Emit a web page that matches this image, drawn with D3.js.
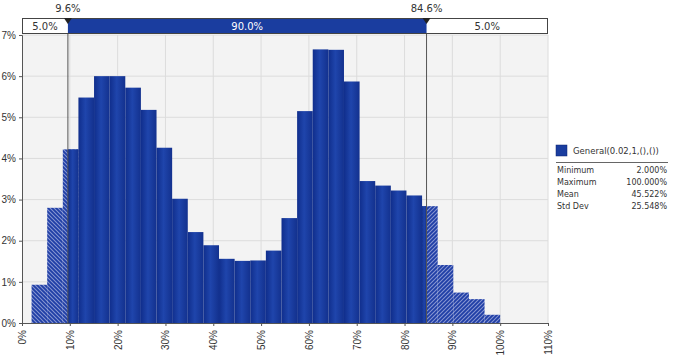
<!DOCTYPE html>
<html>
<head>
<meta charset="utf-8">
<script src="https://cdn.jsdelivr.net/npm/d3@7"></script>
<style>
  body { margin: 0; background: #fff; }
  svg { display: block; font-family: "DejaVu Sans", sans-serif; }
</style>
</head>
<body>
<svg width="674" height="355"></svg>
<script>
// histogram of General(0.02,1,(),()) - 30 bins between min and max
const probs = [0.93, 2.80, 4.22, 5.48, 6.00, 6.00, 5.72, 5.18, 4.26, 3.02,
  2.21, 1.89, 1.56, 1.51, 1.52, 1.76, 2.55, 5.15, 6.65, 6.64,
  5.87, 3.45, 3.34, 3.22, 3.10, 2.84, 1.41, 0.74, 0.58, 0.20];
const binMin = 2;
const binMax = 100;
const cutLow = 9.6;
const cutHigh = 84.6;
const bandLabels = ["5.0%", "90.0%", "5.0%"];
const xTicks = [0, 10, 20, 30, 40, 50, 60, 70, 80, 90, 100, 110];
const yTicks = [0, 1, 2, 3, 4, 5, 6, 7];
const legendTitle = "General(0.02,1,(),())";
const statNames = ["Minimum", "Maximum", "Mean", "Std Dev"];
const statValues = ["2.000%", "100.000%", "45.522%", "25.548%"];

const svg = d3.select("svg");

const x = d3.scaleLinear().domain([0, 110]).range([22, 548]);
const y = d3.scaleLinear().domain([0, 7]).range([323, 35]);

const binW = (binMax - binMin) / probs.length;
const bins = probs.map((p, i) => ({ lo: binMin + i * binW, hi: binMin + (i + 1) * binW, p }));

// gradient + hatch patterns
const defs = svg.append("defs");
const grad = defs.append("linearGradient").attr("id", "barGrad")
  .attr("x1", 0).attr("x2", 1).attr("y1", 0).attr("y2", 0);
grad.append("stop").attr("offset", "0%").attr("stop-color", "#102e8c");
grad.append("stop").attr("offset", "45%").attr("stop-color", "#1f45ac");
grad.append("stop").attr("offset", "100%").attr("stop-color", "#13318e");

const mkHatch = (id, d) => {
  const p = defs.append("pattern").attr("id", id)
    .attr("patternUnits", "userSpaceOnUse").attr("width", 4).attr("height", 4);
  p.append("rect").attr("width", 4).attr("height", 4).attr("fill", "#8796d2");
  p.append("path").attr("d", d).attr("stroke", "#1f3ea6").attr("stroke-width", 1.8);
};
mkHatch("hatchL", "M-1,-1 L5,5 M-1,3 L1,5 M3,-1 L5,1");
mkHatch("hatchR", "M-1,5 L5,-1 M-1,1 L1,-1 M3,5 L5,3");

// plot background + grid
svg.append("rect")
  .attr("x", x(0)).attr("y", y(7))
  .attr("width", x(110) - x(0)).attr("height", y(0) - y(7))
  .attr("fill", "#f3f3f3");

svg.append("g").selectAll("line").data(xTicks.slice(1)).join("line")
  .attr("x1", d => x(d)).attr("x2", d => x(d))
  .attr("y1", y(7)).attr("y2", y(0))
  .attr("stroke", "#dcdcdc");
svg.append("g").selectAll("line").data(yTicks.slice(1)).join("line")
  .attr("x1", x(0)).attr("x2", x(110))
  .attr("y1", d => y(d)).attr("y2", d => y(d))
  .attr("stroke", "#dcdcdc");

// bars: hatched full bar, solid over the central 90%
const bars = svg.append("g");
bars.selectAll("rect.h").data(bins.filter(b => b.lo < cutLow || b.hi > cutHigh)).join("rect")
  .attr("class", "h")
  .attr("x", d => x(d.lo)).attr("width", d => x(d.hi) - x(d.lo))
  .attr("y", d => y(d.p)).attr("height", d => y(0) - y(d.p))
  .attr("fill", d => d.lo < cutLow ? "url(#hatchL)" : "url(#hatchR)");

bars.selectAll("rect.s").data(bins.filter(b => b.hi > cutLow && b.lo < cutHigh)).join("rect")
  .attr("class", "s")
  .attr("x", d => x(Math.max(d.lo, cutLow)))
  .attr("width", d => x(Math.min(d.hi, cutHigh)) - x(Math.max(d.lo, cutLow)))
  .attr("y", d => y(d.p)).attr("height", d => y(0) - y(d.p))
  .attr("fill", "url(#barGrad)");

// axes
const yAxis = svg.append("g").attr("transform", `translate(${x(0)},0)`)
  .call(d3.axisLeft(y).tickValues(yTicks).tickFormat(d => d + "%").tickSize(3).tickPadding(3));
const xAxis = svg.append("g").attr("transform", `translate(0,${y(0)})`)
  .call(d3.axisBottom(x).tickValues(xTicks).tickFormat(d => d + "%").tickSize(3));
[yAxis, xAxis].forEach(a => {
  a.select(".domain").attr("stroke", "#555");
  a.selectAll(".tick line").attr("stroke", "#555");
  a.selectAll("text").attr("fill", "#333").attr("font-size", 10);
});
xAxis.selectAll("text")
  .attr("transform", "rotate(-90)")
  .attr("text-anchor", "end")
  .attr("x", -7).attr("y", 0).attr("dy", "0.35em");

// cutoff lines
svg.append("g").selectAll("line").data([cutLow, cutHigh]).join("line")
  .attr("x1", d => x(d)).attr("x2", d => x(d))
  .attr("y1", 18).attr("y2", y(0))
  .attr("stroke", "#555").attr("stroke-width", 1);

// top band
const band = svg.append("g");
const segs = [[0, cutLow], [cutLow, cutHigh], [cutHigh, 110]];
band.append("rect").attr("x", x(0)).attr("y", 18)
  .attr("width", x(110) - x(0)).attr("height", 16)
  .attr("fill", "#fff");
band.append("rect").attr("x", x(cutLow)).attr("y", 18)
  .attr("width", x(cutHigh) - x(cutLow)).attr("height", 16)
  .attr("fill", "#1a3d9f");
band.append("rect").attr("x", x(0) + 0.5).attr("y", 18.5)
  .attr("width", x(110) - x(0) - 1).attr("height", 15)
  .attr("fill", "none").attr("stroke", "#444");
band.selectAll("text").data(segs).join("text")
  .attr("x", d => (x(d[0]) + x(d[1])) / 2).attr("y", 26).attr("dy", "0.35em")
  .attr("text-anchor", "middle").attr("font-size", 10)
  .attr("fill", (d, i) => i === 1 ? "#fff" : "#333")
  .text((d, i) => bandLabels[i]);

// markers above the band
const marks = svg.append("g").selectAll("g").data([cutLow, cutHigh]).join("g")
  .attr("transform", d => `translate(${x(d)},18)`);
marks.append("path").attr("d", "M-4,0 L4,0 L0,6 Z").attr("fill", "#222");
marks.append("text").attr("y", -6).attr("text-anchor", "middle")
  .attr("font-size", 10).attr("fill", "#333")
  .text(d => d + "%");

// legend
const leg = svg.append("g").attr("transform", "translate(556,145)");
leg.append("rect").attr("width", 11).attr("height", 11)
  .attr("fill", "#1a3d9f").attr("stroke", "#0c2470").attr("stroke-width", 0.5);
leg.append("text").attr("x", 17).attr("y", 6).attr("dy", "0.35em")
  .attr("font-size", 8.5).attr("fill", "#333").text(legendTitle);
leg.append("line").attr("x1", 0).attr("x2", 112).attr("y1", 17.5).attr("y2", 17.5)
  .attr("stroke", "#666");
const rows = leg.selectAll("g.row").data(statNames).join("g").attr("class", "row")
  .attr("transform", (d, i) => `translate(0,${25 + i * 12})`);
rows.append("text").attr("x", 1).attr("dy", "0.35em")
  .attr("font-size", 8).attr("fill", "#333").text(d => d);
rows.append("text").attr("x", 111).attr("dy", "0.35em").attr("text-anchor", "end")
  .attr("font-size", 8).attr("fill", "#333").text((d, i) => statValues[i]);
</script>
</body>
</html>
